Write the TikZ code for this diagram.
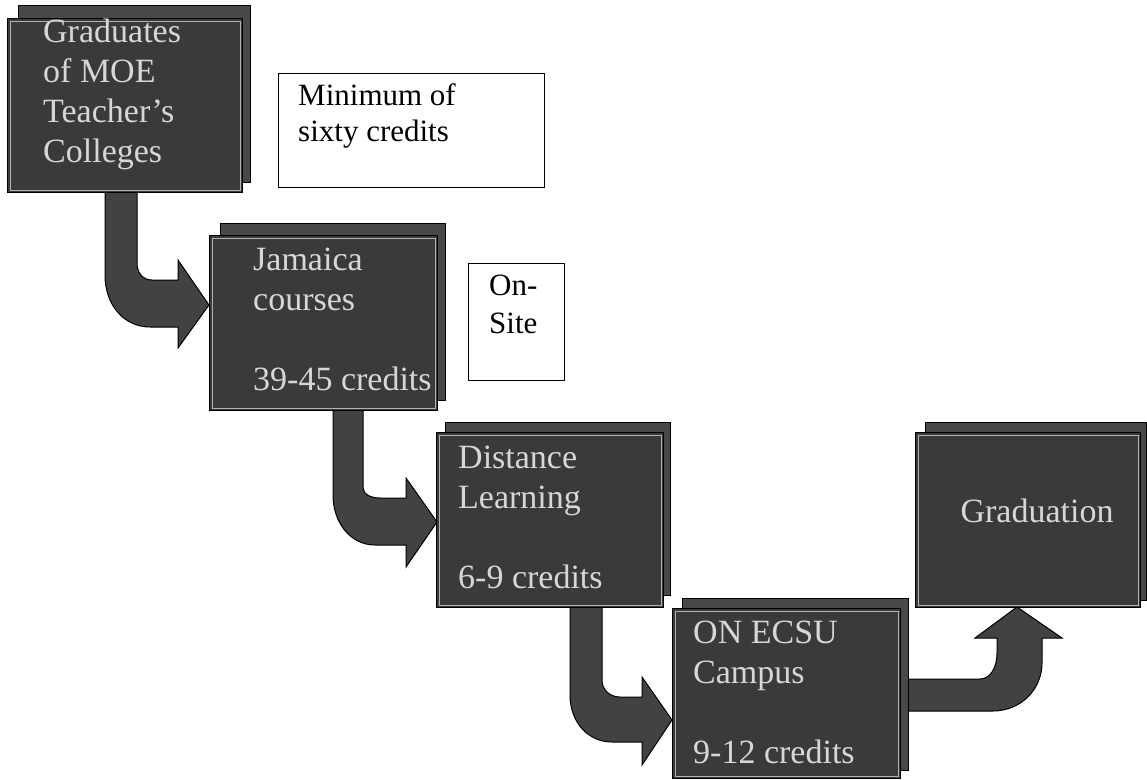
\documentclass[tikz,border=0pt]{standalone}
\usepackage{fontspec}
\setmainfont{Liberation Serif}
\definecolor{boxgray}{RGB}{58,58,58}
\definecolor{shadowgray}{RGB}{72,72,72}
\definecolor{arrowgray}{RGB}{66,66,66}
\definecolor{textlight}{RGB}{215,215,215}
\begin{document}
\begin{tikzpicture}[x=1pt,y=-1pt,
  shadowbox/.style={fill=shadowgray, draw=black, line width=1pt},
  darkbox/.style={fill=boxgray, draw=black, line width=1pt, anchor=north west, inner sep=0pt},
  innerline/.style={draw=gray!60, line width=0.6pt},
  boxtext/.style={anchor=north west, inner sep=0pt, align=left, text=textlight, font=\fontsize{34}{40}\selectfont},
  notebox/.style={draw=black, line width=1.2pt, fill=white, anchor=north west, inner sep=0pt},
  notetext/.style={anchor=north west, inner sep=0pt, align=left, text=black},
  blockarrow/.style={fill=arrowgray, draw=black, line width=1pt, line join=miter}]
\useasboundingbox (0,0) rectangle (1147,779);

% ---------- block arrows ----------
\draw[blockarrow] (105,190) -- (137,190) -- (137,263)
  .. controls (137,273) and (143,280) .. (152,280) -- (178,280) -- (178,260)
  -- (209,305) -- (178,348) -- (178,327) -- (150,327)
  .. controls (124,327) and (105,305) .. (105,275) -- cycle;
\draw[blockarrow] (333,408) -- (363,408) -- (363,487)
  .. controls (363,494) and (370,498) .. (380,498) -- (406,498) -- (406,478)
  -- (437,522) -- (406,567) -- (406,545) -- (375,545)
  .. controls (350,545) and (333,522) .. (333,495) -- cycle;
\draw[blockarrow] (570,605) -- (602,605) -- (602,680)
  .. controls (602,690) and (610,697) .. (620,697) -- (642,697) -- (642,677)
  -- (672,720) -- (642,765) -- (642,742) -- (612,742)
  .. controls (588,742) and (570,722) .. (570,695) -- cycle;
\draw[blockarrow] (905,679) -- (980,679)
  .. controls (990,679) and (997,668) .. (997,653) -- (997,638) -- (975,638)
  -- (1017,607) -- (1062,638) -- (1042,638) -- (1042,663)
  .. controls (1042,690) and (1020,711) .. (993,711) -- (905,711) -- cycle;

% ---------- box 1 ----------
\fill[shadowbox] (18,5) rectangle (250,182);
\node[darkbox, minimum width=235pt, minimum height=174pt] (b1box) at (7,18) {};
\draw[innerline] ([shift={(3,3)}]b1box.north west) rectangle ([shift={(-3,-3)}]b1box.south east);
\node[boxtext] (b1) at (43,18) {\rule{0pt}{24pt}Graduates\\of MOE\\Teacher's\\Colleges};

% ---------- box 2 ----------
\fill[shadowbox] (220,223) rectangle (445,400);
\node[darkbox, minimum width=228pt, minimum height=175pt] (b2box) at (209,235) {};
\draw[innerline] ([shift={(3,3)}]b2box.north west) rectangle ([shift={(-3,-3)}]b2box.south east);
\node[boxtext] (b2) at (253,246) {\rule{0pt}{24pt}Jamaica\\courses\\[40pt]39-45 credits};

% ---------- box 3 ----------
\fill[shadowbox] (445,422) rectangle (670,595);
\node[darkbox, minimum width=227pt, minimum height=175pt] (b3box) at (436,432) {};
\draw[innerline] ([shift={(3,3)}]b3box.north west) rectangle ([shift={(-3,-3)}]b3box.south east);
\node[boxtext] (b3) at (458,444) {\rule{0pt}{24pt}Distance\\Learning\\[40pt]6-9 credits};

% ---------- box 4 ----------
\fill[shadowbox] (682,598) rectangle (908,770);
\node[darkbox, minimum width=228pt, minimum height=170pt] (b4box) at (672,608) {};
\draw[innerline] ([shift={(3,3)}]b4box.north west) rectangle ([shift={(-3,-3)}]b4box.south east);
\node[boxtext] (b4) at (693,619) {\rule{0pt}{24pt}ON ECSU\\Campus\\[40pt]9-12 credits};

% ---------- box 5 ----------
\fill[shadowbox] (925,422) rectangle (1146,600);
\node[darkbox, minimum width=225pt, minimum height=175pt] (b5box) at (915,432) {};
\draw[innerline] ([shift={(3,3)}]b5box.north west) rectangle ([shift={(-3,-3)}]b5box.south east);
\node[boxtext, anchor=base] (b5) at (1037,522) {Graduation};

% ---------- note boxes ----------
\node[notebox, minimum width=266pt, minimum height=114pt] (n1box) at (278,73) {};
\node[notetext, font=\fontsize{31}{36}\selectfont] (n1) at (298,83) {\rule{0pt}{22pt}Minimum of\\sixty credits};
\node[notebox, minimum width=96pt, minimum height=117pt] (n2box) at (468,263) {};
\node[notetext, font=\fontsize{31}{38}\selectfont] (n2) at (489,273) {\rule{0pt}{22pt}On-\\Site};
\end{tikzpicture}
\end{document}
